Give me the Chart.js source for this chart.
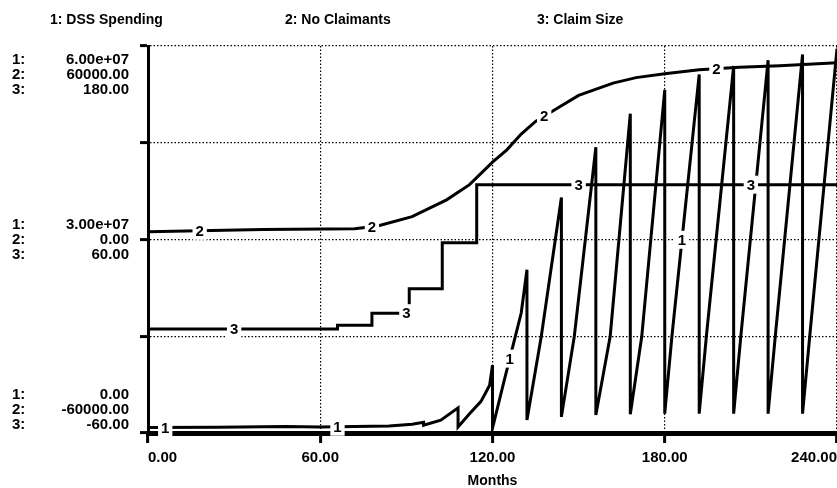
<!DOCTYPE html>
<html>
<head>
<meta charset="utf-8">
<script src="https://cdn.jsdelivr.net/npm/chart.js@4.4.1/dist/chart.umd.min.js"></script>
<style>
  html, body { margin: 0; padding: 0; background: #fff; overflow: hidden; }
  canvas { display: block; }
</style>
</head>
<body>
<canvas id="myChart" width="837" height="488"></canvas>
<script>
var seriesNames = ["1: DSS Spending", "2: No Claimants", "3: Claim Size"];

// 1: DSS Spending (yearly budget that resets every 12 months)
var spendMonths = [0, 24, 48, 60, 84, 92, 96, 96, 102, 108,
    108, 112, 116, 119, 120, 120, 124, 130, 132, 132,
    137, 144, 144, 148.5, 156, 156, 161, 168, 168, 172,
    180, 180, 182.5, 192, 192, 194.5, 204, 204, 206.5, 216,
    216, 218.5, 228, 228, 230.5, 240];
var spendValues = [0.85e6, 0.9e6, 1.0e6, 0.93e6, 1.1e6, 1.35e6, 1.65e6, 1.2e6, 2.0e6, 3.9e6,
    0.95e6, 3.0e6, 4.9e6, 7.4e6, 10.5e6, 0.75e6, 8.0e6, 18.6e6, 25.3e6, 2.0e6,
    15.0e6, 36.5e6, 2.5e6, 15.0e6, 44.3e6, 2.8e6, 15.0e6, 49.5e6, 2.9e6, 15.0e6,
    53.2e6, 3.0e6, 15.0e6, 55.6e6, 3.0e6, 15.0e6, 56.9e6, 3.0e6, 15.0e6, 57.8e6,
    3.0e6, 15.0e6, 58.7e6, 3.0e6, 15.0e6, 59.6e6];

// 2: No Claimants
var claimantMonths = [0, 40, 72, 80, 92, 104, 112, 116, 120, 125, 130, 135, 144, 150, 162, 170, 180, 192, 206, 220, 240];
var claimantValues = [2400, 3100, 3300, 4200, 7100, 12300, 17000, 20500, 24000, 27800, 32700, 36600, 41500, 44700, 48500, 50200, 51400, 52600, 53400, 53900, 54800];

// 3: Claim Size
var sizeMonths = [0, 66, 66, 78, 78, 91, 91, 102.5, 102.5, 114.5, 114.5, 240];
var sizeValues = [4.5, 4.5, 6.8, 6.8, 14.3, 14.3, 29.5, 29.5, 58, 58, 94, 94];

var spendTickLabels = ["6.00e+07", "3.00e+07", "0.00"];
var claimantTickLabels = ["60000.00", "0.00", "-60000.00"];
var sizeTickLabels = ["180.00", "60.00", "-60.00"];

// months where the series number is written on each line
var spendLabelMonths = [6, 66, 126, 186];
var claimantLabelMonths = [18, 78, 138, 198];
var sizeLabelMonths = [30, 90, 150, 210];

var boldFont = '"Liberation Sans", Arial, sans-serif';

function toPoints(months, values) {
    var pts = [];
    for (var i = 0; i < months.length; i++) {
        pts.push({ x: months[i], y: values[i] });
    }
    return pts;
}

function valueAt(months, values, m) {
    for (var i = 1; i < months.length; i++) {
        if (m <= months[i]) {
            var span = months[i] - months[i - 1];
            var t = span ? (m - months[i - 1]) / span : 0;
            return values[i - 1] + t * (values[i] - values[i - 1]);
        }
    }
    return values[values.length - 1];
}

var stellaText = {
    id: "stellaText",
    afterDraw: function (chart) {
        var ctx = chart.ctx;
        var area = chart.chartArea;
        ctx.save();
        ctx.fillStyle = "#000";
        ctx.textBaseline = "middle";

        // legend row
        ctx.font = "bold 14px " + boldFont;
        ctx.textAlign = "left";
        var legendX = [50, 285, 537];
        seriesNames.forEach(function (name, i) {
            ctx.fillText(name, legendX[i], 20);
        });

        // three stacked scale labels at top, middle and bottom
        ctx.font = "bold 15px " + boldFont;
        var mid = (area.top + area.bottom) / 2;
        var rows = [
            [area.top + 14, area.top + 29, area.top + 44],
            [mid - 15, mid, mid + 15],
            [area.bottom - 38, area.bottom - 23, area.bottom - 8]
        ];
        var groups = [spendTickLabels, claimantTickLabels, sizeTickLabels];
        for (var g = 0; g < 3; g++) {
            for (var s = 0; s < 3; s++) {
                ctx.textAlign = "left";
                ctx.fillText((s + 1) + ":", 12, rows[g][s]);
                ctx.textAlign = "right";
                ctx.fillText(groups[s][g], 129, rows[g][s]);
            }
        }

        // series numbers written on the lines
        var xs = chart.scales.x;
        var lines = [
            [spendMonths, spendValues, spendLabelMonths, chart.scales.ySpend],
            [claimantMonths, claimantValues, claimantLabelMonths, chart.scales.yClaim],
            [sizeMonths, sizeValues, sizeLabelMonths, chart.scales.ySize]
        ];
        ctx.textAlign = "center";
        lines.forEach(function (ln, i) {
            var txt = String(i + 1);
            var w = ctx.measureText(txt).width + 6;
            ln[2].forEach(function (m) {
                var px = xs.getPixelForValue(m);
                var py = ln[3].getPixelForValue(valueAt(ln[0], ln[1], m));
                ctx.fillStyle = "#fff";
                ctx.fillRect(px - w / 2, py - 9, w, 18);
                ctx.fillStyle = "#000";
                ctx.fillText(txt, px, py + 1);
            });
        });
        ctx.restore();
    }
};

function lineSet(months, values, axis) {
    return {
        type: "line",
        data: toPoints(months, values),
        yAxisID: axis,
        borderColor: "#000",
        borderWidth: 3,
        pointRadius: 0,
        tension: 0,
        fill: false
    };
}

var config = {
    type: "line",
    data: {
        datasets: [
            lineSet(spendMonths, spendValues, "ySpend"),
            lineSet(claimantMonths, claimantValues, "yClaim"),
            lineSet(sizeMonths, sizeValues, "ySize")
        ]
    },
    options: {
        responsive: false,
        animation: false,
        layout: { padding: { top: 46, left: 0, right: 0, bottom: 0 } },
        plugins: {
            legend: { display: false },
            tooltip: { enabled: false }
        },
        scales: {
            x: {
                type: "linear",
                position: "bottom",
                min: 0,
                max: 240,
                ticks: {
                    stepSize: 60,
                    align: "inner",
                    color: "#000",
                    padding: 0,
                    font: { family: boldFont, size: 15, weight: "bold", lineHeight: 2 },
                    callback: function (v) { return v.toFixed(2); }
                },
                grid: {
                    color: "#000",
                    lineWidth: 1.2,
                    tickLength: 10,
                    tickWidth: 3,
                    tickColor: "#000"
                },
                border: { color: "#000", width: 5, dash: [1.5, 2] },
                title: {
                    display: true,
                    text: "Months",
                    color: "#000",
                    padding: { top: 0, bottom: -2 },
                    font: { family: boldFont, size: 14, weight: "bold" }
                },
                afterFit: function (scale) { scale.height = 55; }
            },
            ySize: {
                type: "linear",
                position: "left",
                min: -60,
                max: 180,
                ticks: { stepSize: 60, display: false },
                grid: {
                    color: "#000",
                    lineWidth: 1.2,
                    tickLength: 8,
                    tickWidth: 3,
                    tickColor: "#000"
                },
                border: { color: "#000", width: 3, dash: [1.5, 2] },
                afterFit: function (scale) { scale.width = 148; }
            },
            ySpend: { type: "linear", display: false, min: 0, max: 6e7 },
            yClaim: { type: "linear", display: false, min: -60000, max: 60000 }
        }
    },
    plugins: [stellaText]
};

var ctx = document.getElementById("myChart").getContext("2d");
var myChart = new Chart(ctx, config);
</script>
</body>
</html>
